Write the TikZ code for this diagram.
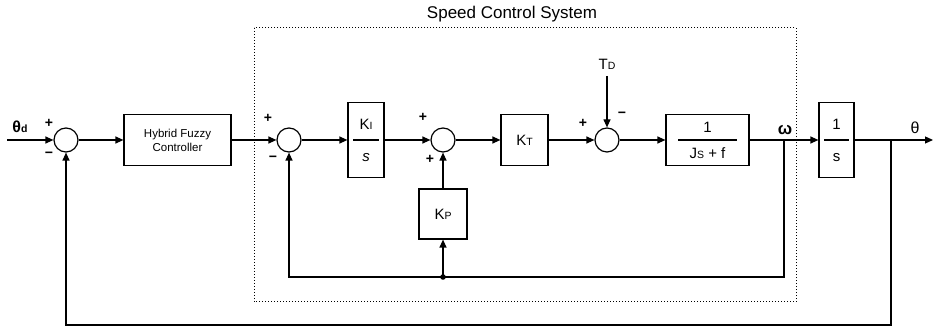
\documentclass[tikz,border=0pt]{standalone}
\usepackage{fontspec}
\setmainfont{Liberation Sans}
\usetikzlibrary{arrows.meta}
\newcommand\lowsub[1]{{\fontsize{10.5}{10.5}\selectfont #1}}
\begin{document}
\begin{tikzpicture}[x=1pt,y=-1pt,
  line width=1.2pt,
  sumnode/.style={draw,circle,minimum size=24pt,inner sep=0pt},
  blk/.style={draw,rectangle,inner sep=0pt},
  lbl/.style={inner sep=0pt,font=\fontsize{15}{15}\selectfont},
  sgn/.style={inner sep=0pt,font=\fontsize{14}{14}\selectfont\bfseries},
  arr/.style={-{Triangle[length=8pt,width=7pt]}},
  bar/.style={line width=1.1pt},
]
\useasboundingbox (0,0) rectangle (934,328);

% dotted frame
\draw[line width=1pt,dash pattern=on 0.9pt off 2.1pt] (254,28) rectangle (796,302);
\node[inner sep=0pt,font=\fontsize{17}{17}\selectfont] (title) at (512,14) {Speed Control System};

% summing junctions
\node[sumnode] (s1) at (66,140) {};
\node[sumnode] (s2) at (289,140) {};
\node[sumnode] (s3) at (443,140) {};
\node[sumnode] (s4) at (607,140) {};

% blocks
\node[blk,minimum width=107pt,minimum height=51pt,align=center,
      font=\fontsize{11.5}{14}\selectfont] (hfc) at (177.5,140) {Hybrid Fuzzy\\Controller};
\node[blk,minimum width=36pt,minimum height=75pt] (ki) at (366,140) {};
\node[lbl] (kinum) at (366,124) {K\lowsub{I}};
\node[lbl] (kiden) at (366,158) {\textit{s}};
\draw[bar] (353,140) -- (379,140);

\node[blk,minimum width=47pt,minimum height=51pt,font=\fontsize{15}{15}\selectfont] (kt) at (524.5,140) {K\lowsub{T}};
\node[blk,minimum width=48pt,minimum height=50pt,font=\fontsize{15}{15}\selectfont] (kp) at (443,214) {K\lowsub{P}};

\node[blk,minimum width=83pt,minimum height=51pt] (jb) at (707.5,140) {};
\node[lbl] (jnum) at (707.5,127) {1};
\node[lbl] (jden) at (707.5,153) {J\lowsub{S} + f};
\draw[bar] (678,140) -- (737,140);

\node[blk,minimum width=35pt,minimum height=75pt] (is) at (836.5,140) {};
\node[lbl] (isnum) at (836.5,124) {1};
\node[lbl] (isden) at (836.5,158) {s};
\draw[bar] (824,140) -- (849,140);

% coordinates
\coordinate (in) at (7,140);
\coordinate (out) at (933,140);
\coordinate (w) at (784,140);
\coordinate (th) at (891,140);
\coordinate (fb1) at (784,277);
\coordinate (jn) at (443,277);
\coordinate (fb2) at (891,325);

% labels
\node[lbl,font=\fontsize{16}{16}\selectfont\bfseries] (thd) at (20,127) {θ\lowsub{d}};
\node[lbl,font=\fontsize{17}{17}\selectfont\bfseries] (om) at (785,130) {ω};
\node[lbl,font=\fontsize{16}{16}\selectfont] (tho) at (915,128) {θ};
\node[lbl] (td) at (607,64) {T\lowsub{D}};

% signs
\node[sgn] at (49,123) {+};
\node[sgn] at (49,155) {−};
\node[sgn] at (268,118) {+};
\node[sgn] at (273,159) {−};
\node[sgn] at (423,117) {+};
\node[sgn] at (430,159) {+};
\node[sgn] at (583,123) {+};
\node[sgn] at (622,115) {−};

% forward path
\draw[arr] (in) -- (s1);
\draw[arr] (s1) -- (hfc);
\draw[arr] (hfc) -- (s2);
\draw[arr] (s2) -- (ki);
\draw[arr] (ki) -- (s3);
\draw[arr] (s3) -- (kt);
\draw[arr] (kt) -- (s4);
\draw[arr] ([yshift=-6pt]td.south) -- (s4);
\draw[arr] (s4) -- (jb);
\draw[arr] (jb) -- (is);
\draw[arr] (is) -- (out);

% inner feedback
\draw[arr] (w) -- (fb1) -| (s2);
\draw[arr] (jn) -- (kp);
\draw[arr] (kp) -- (s3);
\fill (jn) circle (2.8pt);

% outer feedback
\draw[arr] (th) -- (fb2) -| (s1);
\end{tikzpicture}
\end{document}
